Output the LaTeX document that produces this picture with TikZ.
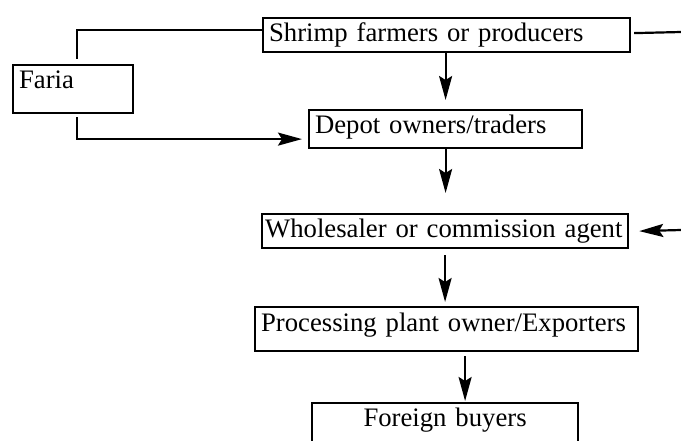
\documentclass[tikz,border=0pt]{standalone}
\usepackage{fontspec}
\setmainfont{Liberation Serif}
\usetikzlibrary{arrows.meta}
\tikzstyle{flow chart}=[
    x=0.5pt, y=-0.5pt,
    stage/.style={rectangle, draw, line width=1.1pt, anchor=north west, inner xsep=3pt, inner ysep=0pt, align=left, font={\fontsize{13.35}{16}\selectfont}},
    link/.style={line width=1.1pt},
    flow/.style={link, -{Stealth[length=12pt,width=6.5pt,inset=2pt]}},
]

\begin{document}
\begin{tikzpicture}[flow chart]
    \useasboundingbox (0,0) rectangle (681,440);

    \node[stage, text width=177.5pt, text height=11.85pt, text depth=5.15pt] (shrimp) at (262,17) {Shrimp farmers or producers};
    \node[stage, text width=54pt, text height=11.75pt, text depth=12.25pt] (faria) at (12,64) {Faria};
    \node[stage, text width=130.5pt, text height=11.85pt, text depth=7.15pt] (depot) at (308,109) {Depot owners/traders};
    \node[stage, inner xsep=1.5pt, text width=180pt, text height=11.5pt, text depth=5.5pt] (wsale) at (261,213) {Wholesaler or commission agent};
    \node[stage, text width=185.5pt, text height=12pt, text depth=10pt] (proc) at (254,306) {Processing plant owner/Exporters};
    \node[stage, align=center, text width=127pt, text height=11.5pt, text depth=17.5pt] (foreign) at (311,402) {Foreign buyers};

    \coordinate (edgeT) at (681,32);
    \coordinate (edgeR) at (681,230);

    \draw[link] ([yshift=2.5pt]shrimp.west) -| ([xshift=2pt,yshift=2.5pt]faria.north);
    \draw[flow] ([xshift=2pt,yshift=-1.5pt]faria.south) |- ([xshift=-3pt,yshift=-5pt]depot.west);
    \draw[link] ([xshift=1.5pt,yshift=1pt]shrimp.east) -- (edgeT);
    \draw[flow] (shrimp.south -| depot.north) -- ([yshift=4.5pt]depot.north);
    \draw[flow] (depot.south) -- ([yshift=10pt]depot.south |- wsale.north);
    \draw[flow] (edgeR) -- ([xshift=5pt]wsale.east);
    \draw[flow] ([yshift=-3pt]wsale.south) -- ([yshift=2pt]wsale.south |- proc.north);
    \draw[flow] ([xshift=9.25pt,yshift=-2pt]proc.south) -- ([xshift=9.25pt,yshift=0.5pt]proc.south |- foreign.north);

\end{tikzpicture}
\end{document}
